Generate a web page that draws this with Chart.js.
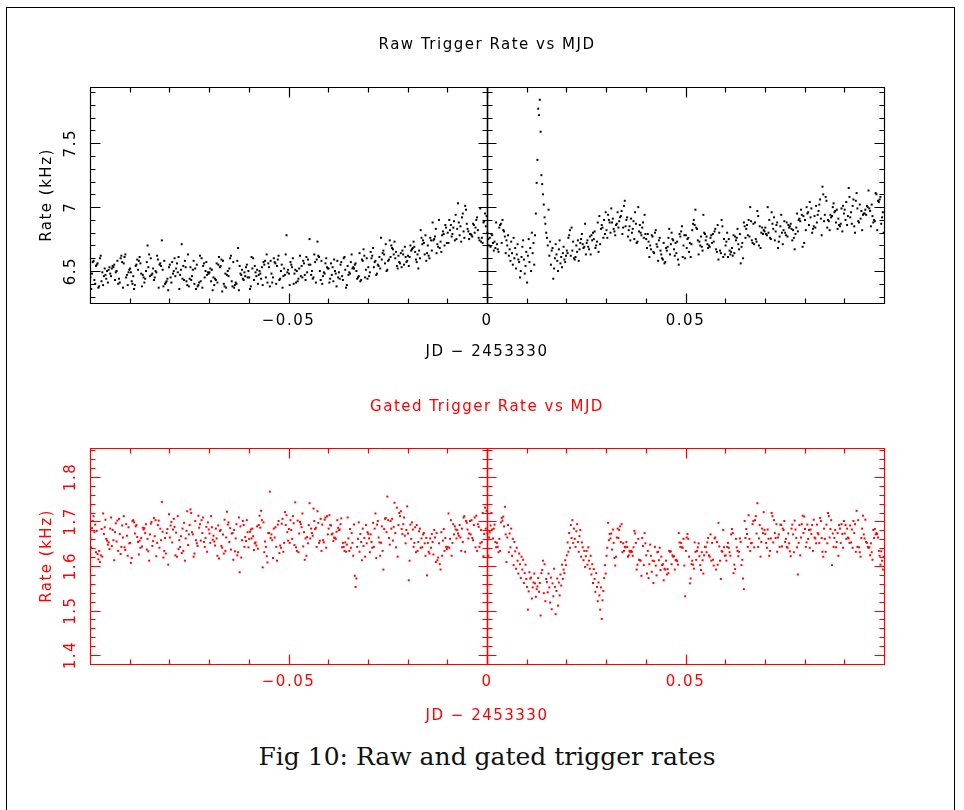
<!DOCTYPE html>
<html>
<head>
<meta charset="utf-8">
<title>Raw and gated trigger rates</title>
<script src="https://cdn.jsdelivr.net/npm/chart.js@4/dist/chart.umd.min.js"></script>
<style>
  html, body { margin: 0; padding: 0; background: #fff; }
  body { width: 964px; height: 810px; position: relative; overflow: hidden; }
  #frame { position: absolute; left: 6px; top: 7px; width: 949px; height: 830px; border: 1.5px solid #000; box-sizing: border-box; }
  canvas { position: absolute; left: 0; }
  #rawChart { top: 0; }
  #gatedChart { top: 380px; }
  #caption { position: absolute; left: 0; width: 974px; top: 742px; text-align: center;
             font-family: "DejaVu Serif", "Liberation Serif", serif; font-size: 25px; line-height: 30px; color: #111; }
</style>
</head>
<body>
<div id="frame"></div>
<canvas id="rawChart" width="964" height="380"></canvas>
<canvas id="gatedChart" width="964" height="360"></canvas>
<div id="caption">Fig 10: Raw and gated trigger rates</div>
<script>
// Readout cadence: one sample every 0.0002 d (~17 s), first sample at JD-2453330 = -0.0999
const sampleStart = -0.0999;
const sampleStep = 0.0002;

// Raw trigger rate (kHz), one line = 25 samples = 0.005 d
const rawRate = [
6.45,6.36,6.48,6.57,6.58,6.43,6.40,6.54,6.55,6.56,6.37,6.38,6.60,6.62,6.42,6.49,6.39,6.46,6.52,6.47,6.44,6.50,6.41,6.51,6.53,
6.48,6.46,6.52,6.54,6.53,6.55,6.43,6.49,6.50,6.58,6.40,6.44,6.41,6.60,6.62,6.57,6.37,6.56,6.61,6.63,6.45,6.47,6.39,6.49,6.51,
6.52,6.49,6.42,6.40,6.46,6.36,6.39,6.54,6.55,6.59,6.51,6.58,6.61,6.56,6.48,6.38,6.47,6.45,6.41,6.44,6.50,6.57,6.70,6.53,6.63,
6.46,6.60,6.47,6.48,6.52,6.43,6.45,6.50,6.49,6.62,6.59,6.37,6.55,6.56,6.54,6.74,6.51,6.38,6.58,6.40,6.41,6.42,6.44,6.35,6.53,
6.55,6.45,6.41,6.57,6.48,6.50,6.60,6.46,6.52,6.56,6.49,6.61,6.36,6.47,6.51,6.71,6.44,6.54,6.43,6.58,6.53,6.42,6.39,6.63,6.38,
6.44,6.53,6.43,6.46,6.51,6.58,6.40,6.52,6.36,6.55,6.38,6.39,6.41,6.62,6.42,6.60,6.37,6.54,6.56,6.45,6.50,6.57,6.47,6.49,6.48,
6.49,6.52,6.42,6.51,6.35,6.45,6.39,6.44,6.43,6.56,6.41,6.55,6.61,6.53,6.54,6.59,6.34,6.58,6.40,6.38,6.48,6.37,6.47,6.50,6.46,
6.52,6.60,6.62,6.42,6.38,6.57,6.37,6.39,6.41,6.40,6.58,6.68,6.35,6.54,6.48,6.47,6.51,6.44,6.43,6.49,6.46,6.53,6.55,6.45,6.50,
6.45,6.36,6.38,6.61,6.52,6.60,6.43,6.54,6.49,6.46,6.51,6.40,6.47,6.50,6.48,6.44,6.53,6.39,6.57,6.55,6.58,6.45,6.63,6.41,6.56,
6.53,6.38,6.58,6.48,6.41,6.45,6.60,6.57,6.56,6.40,6.54,6.59,6.62,6.43,6.44,6.50,6.55,6.37,6.46,6.52,6.47,6.63,6.78,6.49,6.51,
6.48,6.39,6.57,6.55,6.53,6.60,6.40,6.48,6.51,6.41,6.50,6.42,6.44,6.52,6.62,6.46,6.54,6.45,6.58,6.56,6.47,6.43,6.61,6.49,6.59,
6.55,6.75,6.55,6.47,6.50,6.44,6.45,6.63,6.57,6.41,6.59,6.73,6.62,6.61,6.50,6.43,6.58,6.40,6.46,6.49,6.48,6.56,6.60,6.53,6.52,
6.52,6.41,6.44,6.56,6.47,6.53,6.42,6.59,6.50,6.48,6.38,6.58,6.45,6.49,6.44,6.55,6.57,6.46,6.43,6.60,6.61,6.51,6.37,6.39,6.54,
6.47,6.49,6.48,6.57,6.63,6.52,6.53,6.52,6.55,6.56,6.50,6.44,6.45,6.46,6.64,6.42,6.43,6.59,6.58,6.67,6.62,6.45,6.51,6.60,6.44,
6.53,6.46,6.49,6.65,6.60,6.62,6.68,6.53,6.57,6.58,6.47,6.48,6.55,6.54,6.61,6.52,6.76,6.59,6.64,6.66,6.63,6.56,6.71,6.50,6.51,
6.58,6.59,6.74,6.61,6.70,6.68,6.67,6.63,6.73,6.60,6.65,6.54,6.52,6.62,6.57,6.56,6.64,6.53,6.66,6.63,6.55,6.69,6.61,6.57,6.58,
6.62,6.54,6.61,6.70,6.66,6.67,6.68,6.73,6.69,6.65,6.59,6.57,6.63,6.52,6.66,6.60,6.82,6.76,6.71,6.74,6.72,6.63,6.78,6.58,6.64,
6.70,6.62,6.60,6.76,6.74,6.66,6.88,6.74,6.75,6.77,6.83,6.64,6.71,6.69,6.90,6.68,6.73,6.65,6.78,6.81,6.79,6.70,6.86,6.84,6.72,
6.80,6.72,6.90,6.82,6.86,6.77,6.79,6.84,6.89,6.74,6.94,6.75,6.83,7.03,6.88,6.78,6.85,6.73,6.92,6.95,6.81,6.76,7.01,6.98,6.87,
6.83,6.81,6.75,6.79,6.79,6.78,6.77,6.87,6.86,6.80,6.84,6.90,6.92,6.82,6.76,6.74,6.99,6.73,6.76,6.72,6.88,6.89,6.95,6.85,6.93,
6.80,6.75,6.70,6.76,6.69,6.79,6.78,6.72,6.66,6.73,6.68,6.88,6.71,6.67,6.65,6.84,6.86,6.87,6.72,6.90,6.82,6.81,6.77,6.64,6.74,
6.70,6.78,6.62,6.67,6.58,6.73,6.64,6.55,6.76,6.60,6.68,6.52,6.63,6.71,6.59,6.57,6.45,6.50,6.61,6.69,6.74,6.59,6.48,6.54,6.65,
6.41,6.62,6.75,6.57,6.68,6.50,6.80,6.64,6.72,6.55,6.78,6.95,7.19,7.37,7.77,7.72,7.84,7.59,7.25,7.18,7.10,7.02,6.92,6.87,6.80,
6.76,6.70,6.98,6.62,6.73,6.55,6.66,6.68,6.44,6.52,6.60,6.71,6.63,6.58,6.50,6.67,6.74,6.56,6.61,6.53,6.64,6.69,6.59,6.57,6.62,
6.66,6.64,6.76,6.78,6.82,6.62,6.84,6.66,6.73,6.60,6.59,6.61,6.70,6.65,6.74,6.58,6.67,6.72,6.75,6.79,6.71,6.68,6.69,6.87,6.63,
6.72,6.74,6.69,6.67,6.77,6.63,6.78,6.74,6.80,6.75,6.81,6.68,6.70,6.73,6.88,6.65,6.93,6.71,6.83,6.86,6.84,6.76,6.90,6.79,6.96,
6.82,6.76,6.94,6.90,6.88,6.80,6.99,6.88,6.91,6.83,6.81,6.78,6.86,6.87,6.96,6.84,6.89,6.92,6.93,6.97,6.79,6.84,7.01,7.05,6.85,
6.90,6.92,6.77,6.82,6.85,6.74,6.91,6.80,6.83,6.89,6.75,6.96,6.87,6.72,6.73,7.00,6.81,6.86,6.80,6.78,6.84,6.88,6.76,6.94,6.79,
6.75,6.68,6.79,6.73,6.61,6.70,6.67,6.78,6.77,6.65,6.64,6.80,6.82,6.71,6.69,6.58,6.74,6.76,6.66,6.63,6.60,6.59,6.72,6.56,6.57,
6.68,6.66,6.69,6.76,6.83,6.63,6.71,6.80,6.75,6.74,6.67,6.62,6.72,6.64,6.73,6.59,6.55,6.79,6.77,6.81,6.85,6.61,6.70,6.78,6.60,
6.78,6.68,6.75,6.76,6.65,6.72,6.61,6.71,6.82,6.87,6.90,6.86,6.98,6.84,6.83,6.74,6.63,6.73,6.70,6.77,6.69,6.66,6.94,6.80,6.79,
6.74,6.77,6.71,6.68,6.70,6.69,6.76,6.78,6.72,6.79,6.73,6.81,6.83,6.67,6.65,6.86,6.59,6.80,6.66,6.64,6.90,6.85,6.61,6.75,6.63,
6.70,6.73,6.80,6.61,6.75,6.66,6.63,6.65,6.68,6.62,6.78,6.64,6.77,6.74,6.76,6.83,6.71,6.67,6.79,6.56,6.69,6.72,6.60,6.88,6.85,
6.76,6.83,6.86,6.78,6.90,6.77,7.00,6.89,6.74,6.72,6.87,6.71,6.88,6.75,6.73,6.97,6.93,6.70,6.85,6.68,6.80,6.84,6.79,6.82,6.81,
6.84,6.79,6.78,7.00,6.80,6.90,6.76,6.75,6.96,6.87,6.83,6.92,6.74,6.81,6.86,6.88,6.68,6.73,6.77,6.85,6.94,6.80,6.71,6.82,6.89,
6.80,6.78,6.88,6.77,6.86,6.84,6.85,6.87,6.83,6.74,6.82,6.76,6.67,6.79,6.84,6.95,6.81,6.90,6.91,6.89,6.98,6.94,6.69,6.93,6.72,
6.90,6.82,7.00,6.95,6.96,6.86,7.04,6.92,6.99,6.80,6.83,6.85,6.93,6.84,7.01,6.88,6.94,6.97,7.02,7.06,6.91,6.78,7.16,7.10,6.89,
6.94,7.08,7.05,6.84,6.90,6.89,6.82,6.94,6.92,6.93,7.00,7.03,6.96,6.97,6.88,6.98,6.83,6.91,6.86,6.85,6.87,6.99,6.81,7.01,6.95,
6.98,6.90,7.04,6.86,6.93,7.15,7.08,6.92,6.96,6.87,7.01,7.06,6.85,6.80,7.05,7.11,6.99,6.89,6.88,7.02,6.91,6.97,6.82,6.94,6.95,
6.95,6.98,6.94,7.01,7.00,7.13,6.99,6.97,6.85,7.02,6.93,6.88,6.90,6.89,7.11,7.10,6.82,7.05,7.04,7.06,7.08,6.87,6.92,6.96,6.80
];

// Gated trigger rate (kHz), same samples
const gatedRate = [
1.663,1.642,1.685,1.701,1.712,1.676,1.693,1.631,1.679,1.627,1.615,1.634,1.609,1.624,1.683,1.621,1.718,1.672,1.687,1.704,1.661,1.657,1.648,1.653,1.638,
1.684,1.709,1.645,1.681,1.658,1.613,1.676,1.696,1.655,1.702,1.634,1.706,1.672,1.627,1.643,1.691,1.664,1.712,1.642,1.636,1.694,1.668,1.623,1.687,1.651,
1.652,1.607,1.618,1.701,1.703,1.698,1.673,1.689,1.692,1.665,1.654,1.626,1.657,1.641,1.663,1.644,1.686,1.682,1.685,1.674,1.694,1.637,1.661,1.633,1.612,
1.671,1.695,1.699,1.645,1.656,1.708,1.667,1.703,1.622,1.652,1.692,1.702,1.641,1.684,1.658,1.744,1.677,1.619,1.634,1.663,1.628,1.674,1.683,1.603,1.716,
1.664,1.691,1.699,1.653,1.682,1.706,1.688,1.624,1.675,1.621,1.712,1.638,1.658,1.643,1.667,1.629,1.684,1.634,1.697,1.612,1.662,1.679,1.723,1.647,1.671,
1.692,1.727,1.719,1.676,1.671,1.621,1.628,1.701,1.658,1.651,1.645,1.713,1.686,1.694,1.657,1.703,1.674,1.709,1.654,1.643,1.663,1.688,1.632,1.698,1.682,
1.673,1.652,1.712,1.687,1.659,1.668,1.655,1.646,1.684,1.662,1.623,1.691,1.617,1.679,1.681,1.645,1.641,1.671,1.628,1.704,1.634,1.664,1.722,1.693,1.698,
1.654,1.685,1.637,1.673,1.674,1.614,1.681,1.633,1.662,1.694,1.624,1.631,1.709,1.586,1.689,1.619,1.658,1.701,1.692,1.643,1.665,1.656,1.703,1.676,1.642,
1.661,1.677,1.682,1.662,1.684,1.667,1.636,1.651,1.653,1.646,1.689,1.639,1.692,1.713,1.686,1.724,1.703,1.597,1.698,1.631,1.655,1.643,1.622,1.608,1.674,
1.674,1.767,1.663,1.671,1.658,1.618,1.684,1.664,1.687,1.643,1.612,1.693,1.701,1.629,1.646,1.641,1.695,1.706,1.632,1.652,1.721,1.692,1.714,1.676,1.657,
1.683,1.652,1.703,1.681,1.661,1.712,1.696,1.647,1.743,1.642,1.634,1.702,1.631,1.673,1.699,1.694,1.687,1.718,1.644,1.676,1.614,1.662,1.623,1.665,1.651,
1.692,1.741,1.662,1.684,1.674,1.668,1.729,1.701,1.683,1.686,1.643,1.723,1.697,1.652,1.657,1.706,1.634,1.693,1.658,1.653,1.704,1.709,1.641,1.712,1.671,
1.684,1.714,1.692,1.691,1.671,1.673,1.656,1.664,1.663,1.661,1.677,1.703,1.686,1.681,1.682,1.694,1.707,1.642,1.652,1.643,1.634,1.653,1.632,1.648,1.709,
1.662,1.634,1.683,1.641,1.674,1.652,1.623,1.693,1.578,1.553,1.572,1.643,1.661,1.698,1.632,1.672,1.654,1.613,1.684,1.645,1.663,1.621,1.692,1.651,1.676,
1.672,1.662,1.631,1.671,1.654,1.641,1.697,1.643,1.684,1.718,1.618,1.693,1.701,1.664,1.653,1.623,1.652,1.689,1.634,1.592,1.683,1.706,1.708,1.676,1.756,
1.703,1.663,1.648,1.701,1.684,1.706,1.657,1.688,1.742,1.674,1.642,1.731,1.621,1.692,1.719,1.712,1.723,1.683,1.672,1.694,1.709,1.668,1.651,1.681,1.734,
1.673,1.568,1.612,1.693,1.661,1.698,1.682,1.643,1.652,1.687,1.631,1.692,1.634,1.654,1.678,1.684,1.641,1.662,1.642,1.671,1.674,1.651,1.623,1.663,1.579,
1.652,1.632,1.628,1.662,1.641,1.672,1.654,1.626,1.681,1.664,1.609,1.674,1.613,1.619,1.651,1.604,1.592,1.676,1.623,1.657,1.683,1.634,1.663,1.643,1.638,
1.643,1.718,1.641,1.661,1.703,1.623,1.652,1.694,1.671,1.689,1.682,1.662,1.681,1.673,1.668,1.692,1.664,1.634,1.684,1.654,1.709,1.712,1.632,1.701,1.697,
1.682,1.662,1.673,1.701,1.671,1.703,1.663,1.658,1.692,1.709,1.642,1.713,1.634,1.694,1.688,1.643,1.651,1.681,1.654,1.719,1.622,1.672,1.731,1.684,1.724,
1.673,1.623,1.664,1.676,1.691,1.719,1.682,1.662,1.684,1.693,1.654,1.642,1.652,1.643,1.631,1.661,1.634,1.698,1.708,1.702,1.711,1.689,1.733,1.671,1.609,
1.664,1.692,1.631,1.673,1.642,1.684,1.623,1.661,1.602,1.654,1.633,1.594,1.641,1.612,1.583,1.628,1.604,1.573,1.621,1.592,1.614,1.562,1.584,1.603,1.571,
1.553,1.502,1.543,1.586,1.572,1.574,1.527,1.552,1.563,1.583,1.561,1.531,1.548,1.554,1.573,1.542,1.562,1.489,1.584,1.591,1.612,1.539,1.604,1.521,1.571,
1.564,1.541,1.583,1.552,1.518,1.574,1.503,1.561,1.532,1.594,1.553,1.492,1.544,1.572,1.511,1.563,1.534,1.581,1.556,1.603,1.571,1.592,1.584,1.613,1.602,
1.624,1.653,1.632,1.674,1.641,1.692,1.663,1.703,1.652,1.684,1.661,1.643,1.678,1.694,1.654,1.632,1.667,1.681,1.621,1.653,1.642,1.613,1.634,1.598,1.622,
1.634,1.603,1.642,1.612,1.594,1.623,1.581,1.604,1.562,1.593,1.571,1.542,1.584,1.553,1.521,1.563,1.534,1.502,1.552,1.481,1.523,1.544,1.573,1.602,1.583,
1.623,1.641,1.697,1.658,1.672,1.662,1.673,1.637,1.682,1.652,1.618,1.601,1.621,1.664,1.684,1.663,1.681,1.689,1.654,1.694,1.631,1.651,1.634,1.643,1.642,
1.654,1.643,1.621,1.624,1.634,1.631,1.634,1.632,1.623,1.642,1.679,1.673,1.652,1.592,1.603,1.661,1.614,1.613,1.612,1.578,1.663,1.645,1.602,1.674,1.651,
1.624,1.583,1.634,1.573,1.604,1.648,1.623,1.587,1.612,1.562,1.611,1.643,1.601,1.579,1.631,1.632,1.613,1.641,1.591,1.621,1.602,1.604,1.568,1.594,1.592,
1.612,1.581,1.593,1.584,1.634,1.632,1.633,1.604,1.624,1.621,1.622,1.592,1.613,1.614,1.611,1.603,1.674,1.653,1.643,1.652,1.642,1.641,1.661,1.601,1.532,
1.634,1.664,1.672,1.661,1.621,1.561,1.572,1.604,1.612,1.603,1.594,1.653,1.632,1.614,1.634,1.642,1.651,1.622,1.602,1.591,1.631,1.613,1.583,1.624,1.643,
1.643,1.631,1.653,1.663,1.624,1.621,1.671,1.612,1.652,1.614,1.601,1.662,1.664,1.592,1.654,1.603,1.697,1.644,1.612,1.571,1.634,1.632,1.681,1.642,1.623,
1.624,1.612,1.643,1.652,1.641,1.631,1.623,1.671,1.683,1.674,1.584,1.603,1.593,1.661,1.642,1.634,1.622,1.632,1.662,1.654,1.602,1.614,1.572,1.548,1.701,
1.663,1.683,1.672,1.643,1.714,1.661,1.634,1.651,1.652,1.694,1.701,1.642,1.703,1.712,1.673,1.741,1.643,1.662,1.692,1.621,1.654,1.684,1.674,1.721,1.681,
1.672,1.652,1.641,1.682,1.661,1.623,1.634,1.662,1.719,1.712,1.653,1.703,1.674,1.663,1.694,1.632,1.664,1.671,1.643,1.693,1.692,1.644,1.684,1.681,1.701,
1.654,1.661,1.643,1.641,1.673,1.651,1.633,1.622,1.684,1.693,1.671,1.631,1.702,1.682,1.663,1.642,1.581,1.652,1.692,1.624,1.664,1.694,1.713,1.674,1.711,
1.683,1.643,1.653,1.693,1.661,1.681,1.641,1.682,1.672,1.692,1.634,1.704,1.664,1.662,1.651,1.693,1.674,1.671,1.652,1.708,1.701,1.663,1.632,1.621,1.684,
1.661,1.632,1.693,1.651,1.719,1.712,1.664,1.683,1.703,1.602,1.673,1.643,1.663,1.681,1.642,1.654,1.674,1.623,1.692,1.684,1.652,1.694,1.672,1.641,1.701,
1.673,1.692,1.661,1.684,1.664,1.662,1.652,1.691,1.653,1.682,1.641,1.701,1.674,1.694,1.632,1.724,1.643,1.703,1.642,1.631,1.621,1.663,1.684,1.713,1.671,
1.662,1.704,1.654,1.652,1.643,1.641,1.642,1.624,1.651,1.631,1.614,1.681,1.663,1.683,1.671,1.674,1.672,1.664,1.634,1.623,1.603,1.633,1.612,1.592,1.621
];

// Axis ticks and labels
const xTickValues = [-0.05, 0, 0.05];
const xTickLabels = ['\u22120.05', '0', '0.05'];
const rawYTickValues = [6.5, 7, 7.5];
const rawYTickLabels = ['6.5', '7', '7.5'];
const gatedYTickValues = [1.4, 1.5, 1.6, 1.7, 1.8];
const gatedYTickLabels = ['1.4', '1.5', '1.6', '1.7', '1.8'];

const sampleTimes = rawRate.map((_, i) => +(sampleStart + i * sampleStep).toFixed(4));

const TEXT_FONT = { family: '"DejaVu Sans", "Liberation Sans", sans-serif', size: 15, weight: 'normal' };

// Box with inward ticks on all four sides plus the JD = 0 axis line
const boxTicks = {
  id: 'boxTicks',
  beforeDraw(chart) { chart.ctx.letterSpacing = '1.5px'; },
  afterDatasetsDraw(chart, args, o) {
    const { ctx, chartArea: a, scales: { x, y } } = chart;
    const px = v => Math.round(x.getPixelForValue(v)) + 0.5;
    const py = v => Math.round(y.getPixelForValue(v)) + 0.5;
    const L = Math.round(a.left) + 0.5, R = Math.round(a.right) + 0.5;
    const T = Math.round(a.top) + 0.5, B = Math.round(a.bottom) + 0.5;
    ctx.save();
    ctx.strokeStyle = o.color;
    ctx.lineWidth = 1.2;
    ctx.beginPath();
    ctx.rect(L, T, R - L, B - T);
    const i0 = Math.ceil(x.min / o.xMinor - 1e-6), i1 = Math.floor(x.max / o.xMinor + 1e-6);
    for (let i = i0; i <= i1; i++) {
      const X = px(i * o.xMinor);
      const len = i % o.xEvery === 0 ? o.major : o.minor;
      ctx.moveTo(X, B); ctx.lineTo(X, B - len);
      ctx.moveTo(X, T); ctx.lineTo(X, T + len);
    }
    const X0 = px(0);
    const j0 = Math.ceil(y.min / o.yMinor - 1e-6), j1 = Math.floor(y.max / o.yMinor + 1e-6);
    for (let j = j0; j <= j1; j++) {
      const Y = py(j * o.yMinor);
      const major = j % o.yEvery === 0;
      const len = major ? o.major : o.minor;
      ctx.moveTo(L, Y); ctx.lineTo(L + len, Y);
      ctx.moveTo(R, Y); ctx.lineTo(R - len, Y);
      const h = major ? o.zeroMajor : o.zeroMinor;
      ctx.moveTo(X0 - h, Y); ctx.lineTo(X0 + h, Y);
    }
    ctx.stroke();
    ctx.lineWidth = 1.6;
    ctx.beginPath();
    ctx.moveTo(X0, T); ctx.lineTo(X0, B);
    ctx.stroke();
    ctx.restore();
  }
};

function buildChart(id, c) {
  return new Chart(document.getElementById(id), {
    type: 'scatter',
    data: {
      datasets: [{
        data: sampleTimes.map((t, i) => ({ x: t, y: c.values[i] })),
        backgroundColor: c.color,
        pointStyle: 'rect',
        pointRadius: 1.4,
        pointHoverRadius: 1.4,
        pointBorderWidth: 0
      }]
    },
    options: {
      responsive: false,
      animation: false,
      events: [],
      layout: { padding: { left: 0, right: 80, top: 0, bottom: 0 } },
      plugins: {
        legend: { display: false },
        tooltip: { enabled: false },
        title: {
          display: true, text: c.title, color: c.color, fullSize: false,
          font: TEXT_FONT, padding: c.titlePad
        },
        boxTicks: {
          color: c.color, xMinor: 0.01, xEvery: 5, yMinor: c.yMinor, yEvery: 5,
          major: 10, minor: 5, zeroMajor: 9, zeroMinor: 5
        }
      },
      scales: {
        x: {
          type: 'linear', min: -0.1, max: 0.1,
          grid: { display: false, drawTicks: false }, border: { display: false },
          afterBuildTicks: s => { s.ticks = xTickValues.map(v => ({ value: v })); },
          afterFit: s => { s.height = c.xAxisHeight; },
          ticks: { color: c.color, font: TEXT_FONT, padding: 9, autoSkip: false, maxRotation: 0,
                   callback: (v, i) => xTickLabels[i] },
          title: { display: true, text: 'JD \u2212 2453330', color: c.color, font: TEXT_FONT,
                   padding: { top: 0, bottom: c.xTitleBottom } }
        },
        y: {
          type: 'linear', min: c.yMin, max: c.yMax,
          grid: { display: false, drawTicks: false }, border: { display: false },
          afterBuildTicks: s => { s.ticks = c.yTicks.map(v => ({ value: v })); },
          afterFit: s => { s.width = 90; },
          ticks: { color: c.color, font: TEXT_FONT, padding: 7, minRotation: 90, maxRotation: 90,
                   crossAlign: 'center', autoSkip: false, callback: (v, i) => c.yLabels[i] },
          title: { display: true, text: 'Rate (kHz)', color: c.color, font: TEXT_FONT,
                   padding: { top: 38, bottom: 0 } }
        }
      }
    },
    plugins: [boxTicks]
  });
}

buildChart('rawChart', {
  title: 'Raw Trigger Rate vs MJD', color: '#000000', values: rawRate,
  yMin: 6.25, yMax: 7.94, yMinor: 0.1, yTicks: rawYTickValues, yLabels: rawYTickLabels,
  titlePad: { top: 36, bottom: 33 }, xAxisHeight: 77, xTitleBottom: 19
});

buildChart('gatedChart', {
  title: 'Gated Trigger Rate vs MJD', color: '#ff0000', values: gatedRate,
  yMin: 1.38, yMax: 1.865, yMinor: 0.02, yTicks: gatedYTickValues, yLabels: gatedYTickLabels,
  titlePad: { top: 18, bottom: 32 }, xAxisHeight: 76, xTitleBottom: 15
});
</script>
</body>
</html>
